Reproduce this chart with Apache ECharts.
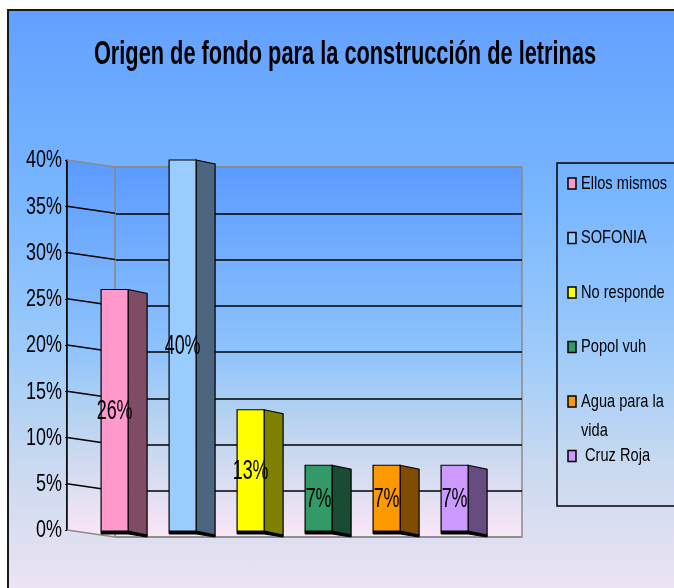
<!DOCTYPE html>
<html>
<head>
<meta charset="utf-8">
<script src="https://cdn.jsdelivr.net/npm/echarts@6/dist/echarts.min.js"></script>
<style>
  html, body { margin: 0; padding: 0; background: #ffffff; }
  #frame { position: absolute; left: 7px; top: 9px; width: 720px; height: 620px;
    border: 2px solid #1a1a1a;
    background: linear-gradient(to bottom, #62A0FF 0%, #78B6FF 30%, #9ECBFA 55%, #C6D8F0 72%, #E4E0F2 88%, #F8E8F8 100%); }
  #chart { position: absolute; left: 0; top: 0; width: 674px; height: 588px; }
</style>
</head>
<body>
<div id="frame"></div>
<div id="chart"></div>
<script>
// ---- data ----
const titleText = 'Origen de fondo para la construcción de letrinas';
const categories = ['Ellos mismos', 'SOFONIA', 'No responde', 'Popol vuh', 'Agua para la vida', 'Cruz Roja'];
const legendLabels = ['Ellos mismos', 'SOFONIA', 'No responde', 'Popol vuh', 'Agua para la\nvida', ' Cruz Roja'];
const values = [0.26, 0.40, 0.13, 0.07, 0.07, 0.07];
const valueLabels = ['26%', '40%', '13%', '7%', '7%', '7%'];
const yTicks = [0, 0.05, 0.10, 0.15, 0.20, 0.25, 0.30, 0.35, 0.40];
const yTickLabels = ['0%', '5%', '10%', '15%', '20%', '25%', '30%', '35%', '40%'];

// ---- styles ----
const frontColors = ['#FF99CC', '#99CCFF', '#FFFF00', '#339966', '#FF9900', '#CC99FF'];
const sideColors  = ['#7F4C66', '#4C667F', '#7F7F00', '#1A4C33', '#7F4C00', '#664C7F'];
const FONT = '"Liberation Sans", Arial, sans-serif';
const DEPTH_X = 48, DEPTH_Y = 7;     // wall depth
const FW = 27, SW = 19, SD = 4;      // bar front width, side width, side slope
const XMIN = -0.7, XMAX = 5.3;

function wallGradient() {
  return new echarts.graphic.LinearGradient(0, 0, 0, 1, [
    { offset: 0, color: '#5B9BFF' },
    { offset: 0.5, color: '#8EC3FC' },
    { offset: 0.68, color: '#B6D3F0' },
    { offset: 0.85, color: '#D9DDF1' },
    { offset: 1, color: '#FAE6F6' }
  ]);
}

const chart = echarts.init(document.getElementById('chart'), null, { renderer: 'canvas' });

const graphics = [];
// title (narrow, tall)
graphics.push({
  type: 'text', x: 345, y: 54.5, scaleX: 0.66, z: 5,
  style: { text: titleText, font: 'bold 33px ' + FONT, fill: '#000',
           align: 'center', verticalAlign: 'middle' }
});
// legend box
graphics.push({
  type: 'rect', shape: { x: 557, y: 163, width: 140, height: 343 },
  style: { fill: 'none', stroke: '#000', lineWidth: 1.5 }, z: 5
});
categories.forEach((c, i) => {
  const cy = 183.5 + 54.5 * i;
  graphics.push({
    type: 'rect', shape: { x: 568, y: cy - 5.5, width: 8, height: 11 },
    style: { fill: frontColors[i], stroke: '#000', lineWidth: 1.5 }, z: 5
  });
  graphics.push({
    type: 'text', x: 581, y: cy - 14.5, scaleX: 0.79, z: 5,
    style: { text: legendLabels[i], font: '18.5px ' + FONT, fill: '#000',
             lineHeight: 29, verticalAlign: 'top', align: 'left' }
  });
});

const option = {
  backgroundColor: 'transparent',
  animation: false,
  graphic: graphics,
  grid: [
    { left: 115, top: 167, width: 407, height: 370, show: true,
      backgroundColor: wallGradient(), borderColor: '#8a8a8a', borderWidth: 1.5 },
    { left: 67, top: 160, width: 408, height: 370 }
  ],
  xAxis: [
    { gridIndex: 0, type: 'value', min: 0, max: 1, show: false },
    { gridIndex: 1, type: 'value', min: XMIN, max: XMAX, show: false }
  ],
  yAxis: [
    { gridIndex: 0, type: 'value', min: 0, max: 0.4, interval: 0.05,
      axisLine: { show: false }, axisTick: { show: false }, axisLabel: { show: false },
      splitLine: { show: true, lineStyle: { width: 1.5,
        color: ['#8a8a8a', '#000', '#000', '#000', '#000', '#000', '#000', '#000', '#8a8a8a'] } } },
    { gridIndex: 1, type: 'value', min: 0, max: 0.4, interval: 0.05, position: 'left',
      axisLine: { show: true, onZero: false, lineStyle: { color: '#000', width: 1.5 } },
      axisTick: { show: true, length: 2, lineStyle: { color: '#000' } },
      splitLine: { show: false },
      axisLabel: { show: false } }
  ],
  series: [
    { // side wall
      type: 'custom', xAxisIndex: 1, yAxisIndex: 1, z: 1, silent: true,
      data: [[XMIN, 0]],
      renderItem(params, api) {
        const t = api.coord([XMIN, 0.4]);
        const b = api.coord([XMIN, 0]);
        return { type: 'group', children: [
          { type: 'polygon', shape: { points: [
            [t[0], t[1]], [t[0] + DEPTH_X, t[1] + DEPTH_Y], [b[0] + DEPTH_X, b[1] + DEPTH_Y], [b[0], b[1]]] },
            style: { fill: wallGradient() } },
          { type: 'line', shape: { x1: t[0] + DEPTH_X, y1: t[1] + DEPTH_Y, x2: b[0] + DEPTH_X, y2: b[1] + DEPTH_Y },
            style: { stroke: '#8a8a8a', lineWidth: 1.5 } },
          { type: 'line', shape: { x1: t[0], y1: t[1], x2: b[0], y2: b[1] },
            style: { stroke: '#000', lineWidth: 1.5 } }
        ] };
      }
    },
    { // side wall grid lines + tick labels
      type: 'custom', xAxisIndex: 1, yAxisIndex: 1, z: 2, silent: true,
      data: yTicks.map((v, i) => [XMIN, v, i]),
      renderItem(params, api) {
        const v = api.value(1);
        const p = api.coord([XMIN, v]);
        const edge = (v === 0 || v === 0.4);
        return { type: 'group', children: [
          { type: 'line', shape: { x1: p[0], y1: p[1], x2: p[0] + DEPTH_X, y2: p[1] + DEPTH_Y },
            style: { stroke: edge ? '#8a8a8a' : '#000', lineWidth: 1.5 } },
          { type: 'text', x: p[0] - 5, y: p[1] + 1, scaleX: 0.78,
            style: { text: yTickLabels[params.dataIndex], x: 0, y: 0, align: 'right', verticalAlign: 'middle',
                     font: '23px ' + FONT, fill: '#000' } }
        ] };
      }
    },
    { // bars
      type: 'custom', xAxisIndex: 1, yAxisIndex: 1, z: 3,
      data: values.map((v, i) => [i, v]),
      renderItem(params, api) {
        const i = params.dataIndex;
        const top = api.coord([api.value(0), api.value(1)]);
        const base = api.coord([api.value(0), 0]);
        const cx = top[0];
        const x0 = cx - FW / 2, x1 = cx + FW / 2, x2 = x1 + SW;
        const ty = top[1], by = base[1] + 1;
        return { type: 'group', children: [
          { type: 'polygon', shape: { points: [[x0, by], [x1, by], [x2, by + SD], [x2, by + SD + 2], [x1, by + 3], [x0, by + 3]] },
            style: { fill: '#000', stroke: '#000', lineWidth: 1 } },
          { type: 'polygon', shape: { points: [[x1, ty], [x2, ty + SD], [x2, by + SD], [x1, by]] },
            style: { fill: sideColors[i], stroke: '#000', lineWidth: 1.2 } },
          { type: 'rect', shape: { x: x0, y: ty, width: FW, height: by - ty },
            style: { fill: frontColors[i], stroke: '#000', lineWidth: 1.2 } },
          { type: 'text', x: cx, y: (ty + by) / 2 + 1, scaleX: 0.64, z2: 10,
            style: { text: valueLabels[i], x: 0, y: 0, align: 'center', verticalAlign: 'middle',
                     font: '28px ' + FONT, fill: '#000' } }
        ] };
      }
    }
  ]
};
chart.setOption(option);
</script>
</body>
</html>
